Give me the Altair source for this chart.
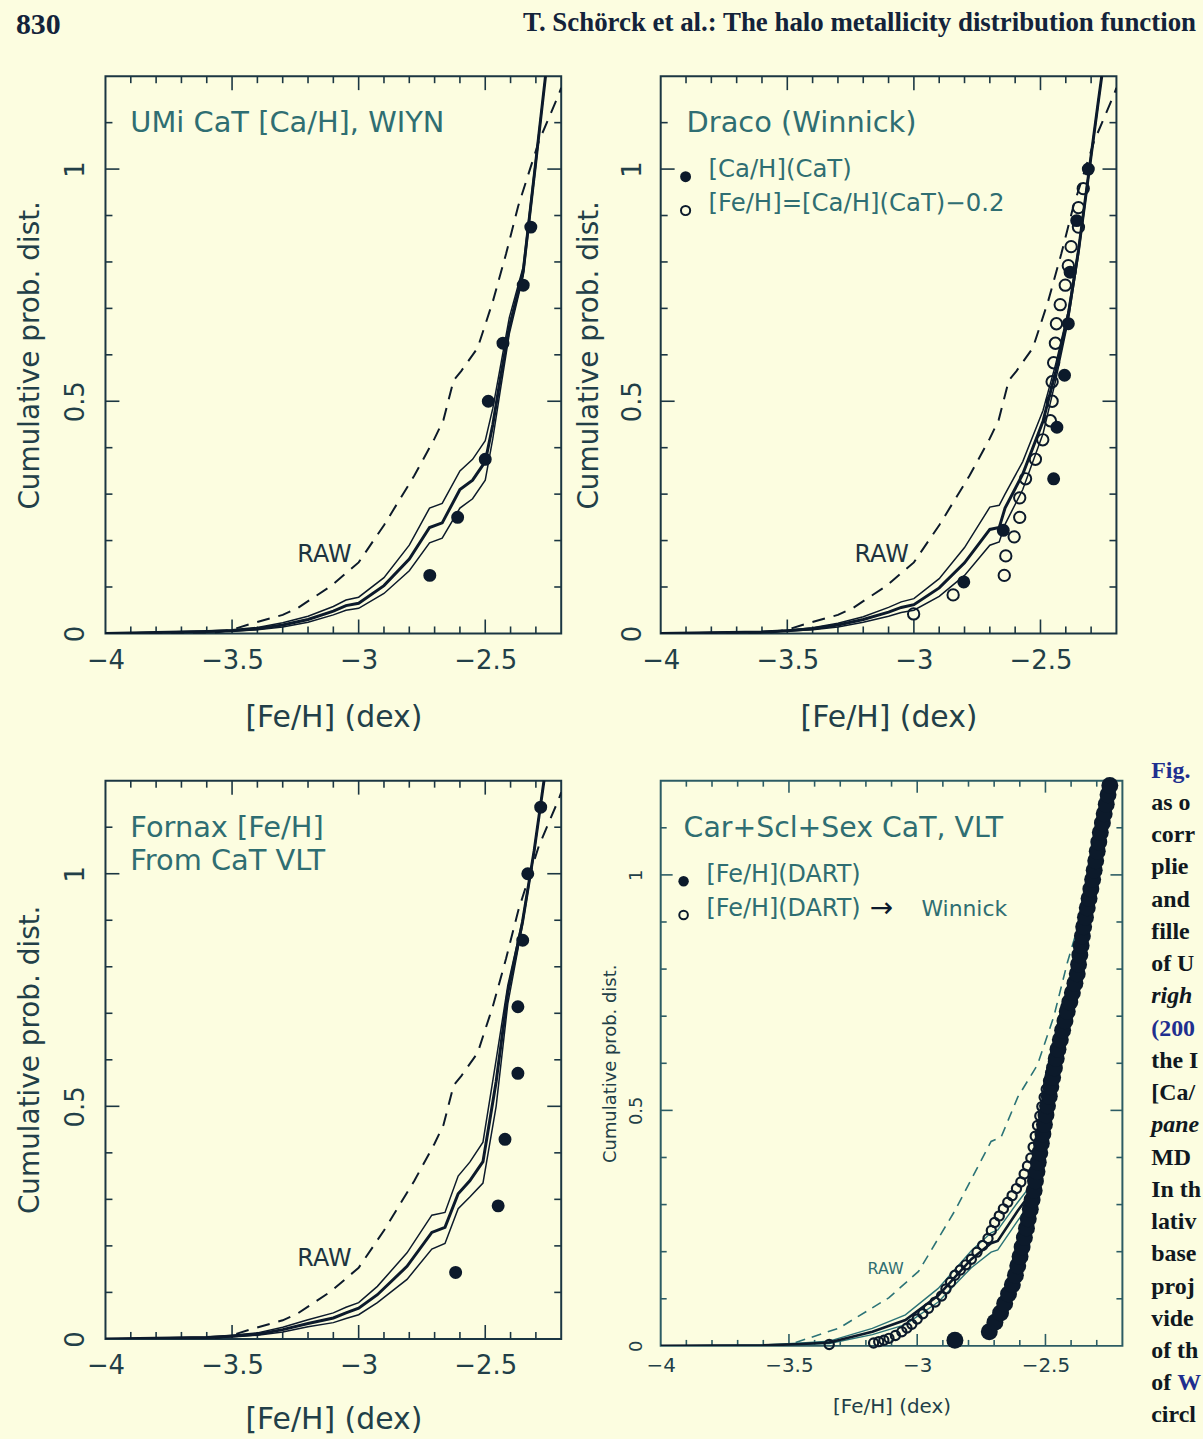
import altair as alt
import pandas as pd

# ---------------- tick positions / labels ----------------
X_LABELS = [-4, -3.5, -3, -2.5]
Y_LABELS = [0, 0.5, 1]
X_MAJOR = [-3.5, -3.0, -2.5]
X_MINOR = [-3.9, -3.8, -3.7, -3.6, -3.4, -3.3, -3.2, -3.1, -2.9, -2.8, -2.7, -2.6, -2.4, -2.3]
Y_MAJOR = [0.5, 1.0]
Y_MINOR = [0.1, 0.2, 0.3, 0.4, 0.6, 0.7, 0.8, 0.9, 1.1]

# ---------------- RAW (dashed) CDF, panels 1-3 ----------------
RAW_X = [-4.0, -3.58, -3.5, -3.43, -3.3, -3.24, -3.11, -3.0, -2.9, -2.78, -2.7, -2.665,
         -2.625, -2.595, -2.53, -2.47, -2.418, -2.37, -2.288, -2.21, -2.2]
RAW_Y = [0.0, 0.0, 0.008, 0.02, 0.04, 0.055, 0.102, 0.153, 0.233, 0.34, 0.42, 0.46,
         0.545, 0.565, 0.615, 0.715, 0.817, 0.92, 1.06, 1.16, 1.175]

# ---------------- panel 1: UMi ----------------
P1_X = [-4.0, -3.6, -3.5, -3.4, -3.3, -3.2, -3.1, -3.05, -3.0, -2.9, -2.8, -2.72, -2.67,
        -2.6, -2.55, -2.5, -2.47, -2.44, -2.405, -2.35, -2.3, -2.262]
P1_MID = [0, 0.004, 0.006, 0.01, 0.018, 0.03, 0.048, 0.06, 0.065, 0.103, 0.16, 0.228, 0.238,
          0.31, 0.33, 0.37, 0.45, 0.55, 0.66, 0.78, 1.017, 1.2]
P1_UP = [0, 0.005, 0.008, 0.013, 0.023, 0.037, 0.058, 0.072, 0.078, 0.12, 0.19, 0.27, 0.28,
         0.35, 0.375, 0.415, 0.485, 0.575, 0.68, 0.79, 1.025, 1.2]
P1_LO = [0, 0.003, 0.005, 0.008, 0.014, 0.024, 0.04, 0.05, 0.054, 0.086, 0.135, 0.195, 0.205,
         0.27, 0.29, 0.33, 0.42, 0.525, 0.645, 0.77, 1.01, 1.2]
P1_PTS_X = [-2.719, -2.609, -2.50, -2.488, -2.43, -2.35, -2.32]
P1_PTS_Y = [0.125, 0.25, 0.375, 0.5, 0.625, 0.75, 0.875]

# ---------------- panel 2: Draco ----------------
P2_X = [-4.0, -3.6, -3.5, -3.4, -3.3, -3.2, -3.1, -3.05, -3.0, -2.9, -2.8, -2.7, -2.663,
        -2.64, -2.57, -2.49, -2.44, -2.39, -2.35, -2.318, -2.272, -2.258]
P2_MID = [0, 0.003, 0.006, 0.01, 0.018, 0.03, 0.046, 0.056, 0.062, 0.098, 0.152, 0.224, 0.228,
          0.27, 0.343, 0.457, 0.564, 0.687, 0.824, 0.955, 1.144, 1.2]
P2_UP = [0, 0.004, 0.007, 0.012, 0.022, 0.036, 0.056, 0.068, 0.075, 0.118, 0.185, 0.272, 0.276,
         0.3, 0.37, 0.48, 0.58, 0.695, 0.83, 0.96, 1.146, 1.2]
P2_LO = [0, 0.002, 0.005, 0.008, 0.014, 0.024, 0.037, 0.045, 0.05, 0.08, 0.125, 0.19, 0.197,
         0.235, 0.31, 0.43, 0.545, 0.675, 0.815, 0.95, 1.14, 1.2]
P2_FILL_X = [-2.803, -2.647, -2.448, -2.435, -2.405, -2.39, -2.383, -2.357, -2.311]
P2_FILL_Y = [0.111, 0.222, 0.333, 0.444, 0.556, 0.667, 0.778, 0.889, 1.0]
P2_OPEN_X = [-3.001, -2.845, -2.643, -2.637, -2.604, -2.582, -2.582, -2.559, -2.52, -2.491,
             -2.461, -2.454, -2.454, -2.448, -2.441, -2.437, -2.422, -2.402, -2.39, -2.379,
             -2.35, -2.35, -2.331]
P2_OPEN_Y = [0.042, 0.083, 0.125, 0.167, 0.208, 0.25, 0.292, 0.333, 0.375, 0.417,
             0.458, 0.5, 0.542, 0.583, 0.625, 0.667, 0.708, 0.75, 0.792, 0.833,
             0.875, 0.917, 0.958]

# ---------------- panel 3: Fornax ----------------
P3_X = [-4.0, -3.6, -3.5, -3.4, -3.3, -3.2, -3.1, -3.05, -3.0, -2.926, -2.809, -2.711, -2.659,
        -2.607, -2.561, -2.509, -2.457, -2.411, -2.353, -2.307, -2.268]
P3_MID = [0, 0.003, 0.006, 0.01, 0.02, 0.033, 0.045, 0.056, 0.066, 0.095, 0.156, 0.229, 0.24,
          0.312, 0.34, 0.381, 0.553, 0.744, 0.896, 1.049, 1.2]
P3_UP = [0, 0.004, 0.008, 0.013, 0.025, 0.041, 0.056, 0.068, 0.078, 0.113, 0.185, 0.266, 0.272,
         0.35, 0.38, 0.423, 0.6, 0.76, 0.9, 1.05, 1.2]
P3_LO = [0, 0.002, 0.004, 0.008, 0.015, 0.026, 0.035, 0.044, 0.052, 0.078, 0.128, 0.193, 0.205,
         0.28, 0.305, 0.335, 0.5, 0.72, 0.89, 1.045, 1.2]
P3_PTS_X = [-2.617, -2.449, -2.422, -2.371, -2.371, -2.352, -2.332, -2.281]
P3_PTS_Y = [0.143, 0.286, 0.429, 0.571, 0.714, 0.857, 1.0, 1.143]

# ---------------- panel 4: Car+Scl+Sex ----------------
P4_X = [-4.0, -3.6, -3.45, -3.343, -3.175, -3.046, -2.918, -2.789, -2.712, -2.686, -2.608, -2.537, -2.515]
P4_MID = [0, 0.001, 0.004, 0.007, 0.03, 0.055, 0.107, 0.184, 0.218, 0.223, 0.287, 0.339, 0.37]
P4_UP = [0, 0.002, 0.006, 0.01, 0.037, 0.066, 0.122, 0.202, 0.24, 0.246, 0.305, 0.355, 0.39]
P4_LO = [0, 0.001, 0.003, 0.005, 0.024, 0.045, 0.093, 0.166, 0.199, 0.204, 0.266, 0.32, 0.35]
P4_RAW_X = [-4.0, -3.6, -3.497, -3.304, -3.111, -2.995, -2.853, -2.712, -2.673, -2.608, -2.531,
            -2.467, -2.415, -2.364, -2.345]
P4_RAW_Y = [0, 0, 0.003, 0.038, 0.102, 0.158, 0.287, 0.434, 0.443, 0.528, 0.597,
            0.7, 0.813, 0.907, 0.94]
P4_FILL_X = [-2.853, -2.719, -2.697, -2.675, -2.659, -2.644, -2.629, -2.617, -2.608, -2.599,
             -2.591, -2.582, -2.574, -2.567, -2.559, -2.552, -2.544, -2.539, -2.533, -2.528,
             -2.522, -2.516, -2.510, -2.504, -2.498, -2.492, -2.485, -2.479, -2.472, -2.465,
             -2.458, -2.451, -2.442, -2.433, -2.424, -2.415, -2.405, -2.395, -2.385, -2.376,
             -2.371, -2.366, -2.361, -2.356, -2.351, -2.344, -2.337, -2.330, -2.323, -2.316,
             -2.310, -2.304, -2.298, -2.292, -2.286, -2.278, -2.271, -2.263, -2.256, -2.249]
P4_FILL_Y = [0.012, 0.03, 0.05, 0.07, 0.09, 0.11, 0.13, 0.15, 0.17, 0.19,
             0.21, 0.23, 0.25, 0.27, 0.29, 0.31, 0.33, 0.35, 0.37, 0.39,
             0.41, 0.43, 0.45, 0.47, 0.49, 0.51, 0.53, 0.55, 0.57, 0.59,
             0.61, 0.63, 0.65, 0.67, 0.69, 0.71, 0.73, 0.75, 0.77, 0.79,
             0.81, 0.83, 0.85, 0.87, 0.89, 0.91, 0.93, 0.95, 0.97, 0.99,
             1.01, 1.03, 1.05, 1.07, 1.09, 1.11, 1.13, 1.15, 1.17, 1.19]
P4_OPEN_X = [-3.343, -3.170, -3.150, -3.130, -3.110, -3.085, -3.060, -3.040, -3.021, -3.000,
             -2.978, -2.956, -2.930, -2.905, -2.888, -2.870, -2.853, -2.832, -2.810, -2.789,
             -2.767, -2.745, -2.724, -2.711, -2.698, -2.680, -2.664, -2.647, -2.630, -2.613,
             -2.596, -2.583, -2.570, -2.557, -2.548, -2.540, -2.531, -2.522, -2.514, -2.505,
             -2.497, -2.488, -2.480, -2.469, -2.458, -2.447, -2.438, -2.429, -2.420]
P4_OPEN_Y = [0.003, 0.006, 0.009, 0.012, 0.016, 0.022, 0.030, 0.038, 0.046, 0.057,
             0.068, 0.080, 0.093, 0.106, 0.121, 0.135, 0.150, 0.161, 0.172, 0.184,
             0.199, 0.213, 0.228, 0.245, 0.262, 0.276, 0.291, 0.305, 0.319, 0.334,
             0.348, 0.365, 0.382, 0.399, 0.422, 0.445, 0.468, 0.488, 0.508, 0.528,
             0.545, 0.563, 0.580, 0.603, 0.626, 0.649, 0.672, 0.696, 0.720]

CAPTION = ["Fig.", "as o", "corr", "plie", "and", "fille", "of U", "righ", "(200", "the I",
           "[Ca/", "pane", "MD", "In th", "lativ", "base", "proj", "vide", "of th", "of", "circl"]

# ---------------- style ----------------
SANS = "DejaVu Sans"
SERIF = "Liberation Serif"
BG = "#fcfde0"
INK = "#0c1a2b"
FRAME = "#1b3642"
FRAME4 = "#2c5c64"
TEAL = "#2f6e72"
LABEL = "#223f48"
TEAL4 = "#2b7377"
BLUE = "#1f2f8f"

XS = alt.Scale(domain=[-4, -2.2], nice=False, zero=False)
YS = alt.Scale(domain=[0, 1.2], nice=False, zero=False)


def text_layer(s, x, y, size, color, align="left", baseline="middle", font=SANS,
               weight="normal", style="normal"):
    return alt.Chart(pd.DataFrame({"t": [s]})).mark_text(
        align=align, baseline=baseline, font=font, fontSize=size,
        fontWeight=weight, fontStyle=style, color=color
    ).encode(x=alt.value(x), y=alt.value(y), text="t:N")


def marker_layer(x, y, filled, size):
    return alt.Chart(pd.DataFrame({"t": [0]})).mark_point(
        shape="circle", filled=filled, size=size, color=INK, strokeWidth=2, opacity=1
    ).encode(x=alt.value(x), y=alt.value(y))


def x_axis(lsize, lpad, tsize, tx, ty):
    return alt.Axis(values=X_LABELS, format="~g", labelFont=SANS, labelFontSize=lsize,
                    labelColor=LABEL, labelPadding=lpad, labelFlush=False, labelOverlap=False,
                    ticks=False, tickSize=0, domain=False, grid=False,
                    title="[Fe/H] (dex)", titleFont=SANS, titleFontSize=tsize,
                    titleFontWeight="normal", titleColor=LABEL, titleX=tx, titleY=ty,
                    titleBaseline="alphabetic", titleAlign="center")


def y_axis(lsize, lpad, tsize, tx, ty):
    return alt.Axis(values=Y_LABELS, format="~g", labelFont=SANS, labelFontSize=lsize,
                    labelColor=LABEL, labelPadding=lpad, labelAngle=270, labelAlign="center",
                    labelBaseline="middle", labelFlush=False, labelOverlap=False,
                    ticks=False, tickSize=0, domain=False, grid=False,
                    title="Cumulative prob. dist.", titleFont=SANS, titleFontSize=tsize,
                    titleFontWeight="normal", titleColor=LABEL, titleAngle=270,
                    titleX=tx, titleY=ty, titleBaseline="middle", titleAlign="center")


class Panel:
    def __init__(self, W, H, ax, ay):
        self.W, self.H, self.ax, self.ay = W, H, ax, ay

    def X(self):
        return alt.X("x:Q", scale=XS, axis=self.ax)

    def Y(self):
        return alt.Y("y:Q", scale=YS, axis=self.ay)

    def line(self, xs, ys, color, width, dash=None):
        kw = dict(color=color, strokeWidth=width, clip=True)
        if dash:
            kw["strokeDash"] = dash
        return alt.Chart(pd.DataFrame({"x": xs, "y": ys})).mark_line(**kw).encode(
            x=self.X(), y=self.Y())

    def points(self, xs, ys, filled, size, sw=2):
        return alt.Chart(pd.DataFrame({"x": xs, "y": ys})).mark_point(
            shape="circle", filled=filled, size=size, color=INK, strokeWidth=sw, opacity=1
        ).encode(x=self.X(), y=self.Y())

    def ticks(self, major, minor, color):
        W, H = self.W, self.H
        out = []
        for vals, L in ((X_MAJOR, major), (X_MINOR, minor)):
            base = alt.Chart(pd.DataFrame({"x": vals})).mark_rule(color=color, strokeWidth=1.6)
            out.append(base.encode(x=self.X(), y=alt.value(H), y2=alt.value(H - L)))
            out.append(base.encode(x=self.X(), y=alt.value(0), y2=alt.value(L)))
        for vals, L in ((Y_MAJOR, major), (Y_MINOR, minor)):
            base = alt.Chart(pd.DataFrame({"y": vals})).mark_rule(color=color, strokeWidth=1.6)
            out.append(base.encode(y=self.Y(), x=alt.value(0), x2=alt.value(L)))
            out.append(base.encode(y=self.Y(), x=alt.value(W), x2=alt.value(W - L)))
        return out


DASH = [13, 9]

# ---------- panel 1 ----------
A = Panel(458, 560, x_axis(26, 14, 30, 229, 94), y_axis(26, 30, 28, -75, 280))
p1 = alt.layer(
    *A.ticks(14, 7, FRAME),
    A.line(RAW_X, RAW_Y, INK, 2, DASH),
    A.line(P1_X, P1_UP, INK, 1.5),
    A.line(P1_X, P1_LO, INK, 1.5),
    A.line(P1_X, P1_MID, INK, 3),
    A.points(P1_PTS_X, P1_PTS_Y, True, 170),
    text_layer("UMi CaT [Ca/H], WIYN", 25, 47, 29, TEAL),
    text_layer("RAW", 220, 481, 24, "#1d3440", align="center"),
    text_layer("830", -90, -66, 30, "#13233a", baseline="top", font=SERIF, weight="bold"),
).properties(width=A.W, height=A.H, view=alt.ViewBackground(stroke=FRAME, strokeWidth=2))

# ---------- panel 2 ----------
B = Panel(458, 560, x_axis(26, 14, 30, 229, 94), y_axis(26, 28, 28, -72, 280))
p2 = alt.layer(
    *B.ticks(14, 7, FRAME),
    B.line(RAW_X, RAW_Y, INK, 2, DASH),
    B.line(P2_X, P2_UP, INK, 1.5),
    B.line(P2_X, P2_LO, INK, 1.5),
    B.line(P2_X, P2_MID, INK, 3),
    B.points(P2_OPEN_X, P2_OPEN_Y, False, 130),
    B.points(P2_FILL_X, P2_FILL_Y, True, 170),
    text_layer("Draco (Winnick)", 26, 47, 29, TEAL),
    marker_layer(25, 101, True, 120),
    marker_layer(25, 135, False, 85),
    text_layer("[Ca/H](CaT)", 48, 94, 24.5, TEAL),
    text_layer("[Fe/H]=[Ca/H](CaT)\u22120.2", 48, 128, 24.5, TEAL),
    text_layer("RAW", 222, 481, 24, "#1d3440", align="center"),
    text_layer("T. Sch\u00f6rck et al.: The halo metallicity distribution function", 538, -66, 27,
               "#13233a", align="right", baseline="top", font=SERIF, weight="bold"),
).properties(width=B.W, height=B.H, view=alt.ViewBackground(stroke=FRAME, strokeWidth=2))

# ---------- panel 3 ----------
C = Panel(458, 561, x_axis(26, 14, 30, 229, 90), y_axis(26, 30, 28, -75, 280))
p3 = alt.layer(
    *C.ticks(14, 7, FRAME),
    C.line(RAW_X, RAW_Y, INK, 2, DASH),
    C.line(P3_X, P3_UP, INK, 1.5),
    C.line(P3_X, P3_LO, INK, 1.5),
    C.line(P3_X, P3_MID, INK, 3),
    C.points(P3_PTS_X, P3_PTS_Y, True, 170),
    text_layer("Fornax [Fe/H]", 25, 48, 29, TEAL),
    text_layer("From CaT VLT", 25, 81, 29, TEAL),
    text_layer("RAW", 220, 481, 24, "#1d3440", align="center"),
).properties(width=C.W, height=C.H, view=alt.ViewBackground(stroke=FRAME, strokeWidth=2))

# ---------- panel 4 ----------
cap_layers = []
for i, s in enumerate(CAPTION):
    y = -3 + 32.4 * i
    color = BLUE if s in ("Fig.", "(200") else "#101820"
    style = "italic" if s in ("righ", "pane") else "normal"
    cap_layers.append(text_layer(s, 493, y, 24, color, baseline="alphabetic", font=SERIF,
                                 weight="bold", style=style))
    if s == "of":
        cap_layers.append(text_layer("W", 519, y, 24, BLUE, baseline="alphabetic", font=SERIF,
                                     weight="bold"))

D = Panel(464, 568, x_axis(20, 10, 20, 232, 67), y_axis(18, 24, 18, -50, 284))
p4 = alt.layer(
    *D.ticks(12, 6, FRAME4),
    D.line(P4_RAW_X, P4_RAW_Y, TEAL4, 1.6, [10, 7]),
    D.line(P4_X, P4_UP, TEAL4, 1.4),
    D.line(P4_X, P4_LO, TEAL4, 1.4),
    D.line(P4_X, P4_MID, INK, 2.6),
    D.points(P4_OPEN_X, P4_OPEN_Y, False, 85, sw=2.2),
    D.points(P4_FILL_X, P4_FILL_Y, True, 290),
    text_layer("Car+Scl+Sex CaT, VLT", 23, 48, 28.5, TEAL),
    marker_layer(23, 101, True, 110),
    marker_layer(23, 135, False, 75),
    text_layer("[Fe/H](DART)", 46, 95, 24, TEAL),
    text_layer("[Fe/H](DART)", 46, 129, 24, TEAL),
    text_layer("\u2192", 210, 129, 28, INK),
    text_layer("Winnick", 262, 129, 22, TEAL),
    text_layer("RAW", 226, 491, 16, TEAL, align="center"),
    *cap_layers,
).properties(width=D.W, height=D.H, view=alt.ViewBackground(stroke=FRAME4, strokeWidth=2))

chart = alt.concat(
    p1, p2, p3, p4, columns=2, spacing={"row": 148, "column": 100}, bounds="flush"
).properties(
    padding={"left": 15, "top": 5, "right": 0, "bottom": 0}, background=BG
)

chart.save("out.html", embed_options={"renderer": "svg", "actions": False})
